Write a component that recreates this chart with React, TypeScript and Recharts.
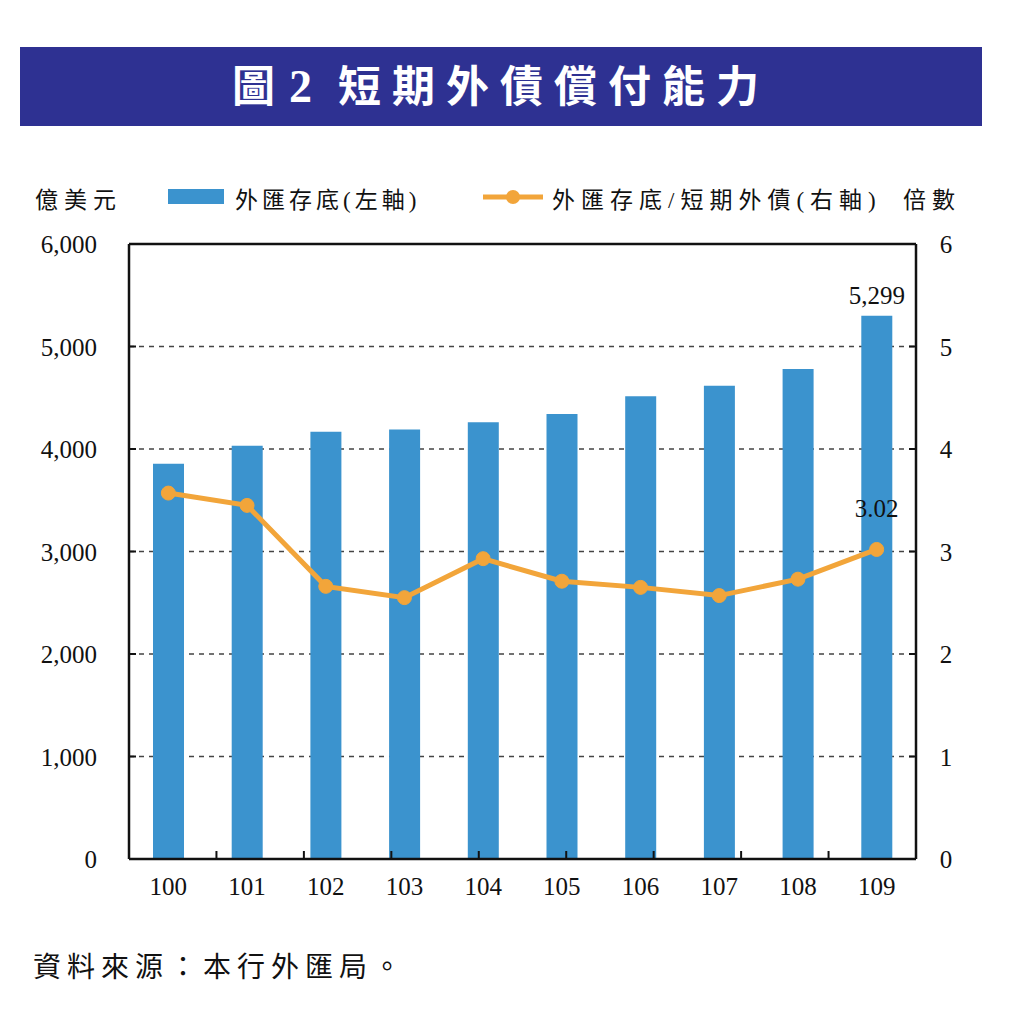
import React from 'react'
import {
  ComposedChart,
  Bar,
  Line,
  XAxis,
  YAxis,
  CartesianGrid,
  ReferenceLine,
  LabelList,
} from 'recharts'

const YEARS = ['100', '101', '102', '103', '104', '105', '106', '107', '108', '109']
const RESERVES = [3855, 4032, 4168, 4190, 4260, 4342, 4515, 4618, 4781, 5299]
const RATIO = [3.57, 3.45, 2.66, 2.55, 2.93, 2.71, 2.65, 2.57, 2.73, 3.02]
const LEFT_TICKS = [0, 1000, 2000, 3000, 4000, 5000, 6000]
const RIGHT_TICKS = [0, 1, 2, 3, 4, 5, 6]
const SEPARATORS = [1, 2, 3, 4, 5, 6, 7, 8, 9]

const data = YEARS.map((year, i) => ({
  year,
  reserves: RESERVES[i],
  ratio: RATIO[i],
  // only the last year carries a label
  reservesLabel: i === YEARS.length - 1 ? RESERVES[i] : null,
  ratioLabel: i === YEARS.length - 1 ? RATIO[i] : null,
}))

const FONT = '"Liberation Serif", "Noto Sans CJK TC", serif'
const BLUE = '#3b93ce'
const ORANGE = '#f2a53a'
const INK = '#111'

function LeftTick(props: any) {
  const { x, y, payload } = props
  return (
    <g>
      <line x1={x} x2={x + 7} y1={y} y2={y} stroke={INK} strokeWidth={2} />
      <text x={x - 32} y={y + 9} textAnchor="end" fontSize={25} fontFamily={FONT} fill={INK}>
        {Number(payload.value).toLocaleString('en-US')}
      </text>
    </g>
  )
}

function RightTick(props: any) {
  const { x, y, payload } = props
  return (
    <g>
      <line x1={x - 7} x2={x} y1={y} y2={y} stroke={INK} strokeWidth={2} />
      <text x={x + 30} y={y + 9} textAnchor="middle" fontSize={25} fontFamily={FONT} fill={INK}>
        {payload.value}
      </text>
    </g>
  )
}

function YearTick(props: any) {
  const { x, y, payload } = props
  return (
    <text x={x} y={y + 36} textAnchor="middle" fontSize={25} fontFamily={FONT} fill={INK}>
      {payload.value}
    </text>
  )
}

function SeparatorTick(props: any) {
  const { x, y } = props
  return <line x1={x} x2={x} y1={y - 1} y2={y - 9} stroke={INK} strokeWidth={2} />
}

export default function App() {
  return (
    <div
      style={{
        position: 'absolute',
        left: 0,
        top: 0,
        width: 1024,
        height: 1018,
        background: '#fff',
        fontFamily: FONT,
        color: INK,
      }}
    >
      <div
        style={{
          position: 'absolute',
          left: 20,
          top: 47,
          width: 962,
          height: 79,
          background: '#2e3192',
          color: '#fff',
          fontWeight: 'bold',
          fontSize: 43,
          letterSpacing: 11,
          lineHeight: '79px',
          textAlign: 'center',
        }}
      >
        <span style={{ letterSpacing: 0 }}>圖</span>
        <span style={{ fontSize: 46, letterSpacing: 0, margin: '0 26px 0 14px' }}>2</span>
        短期外債償付能力
      </div>

      <div style={{ position: 'absolute', left: 35, top: 181, fontSize: 23, letterSpacing: 6 }}>
        億美元
      </div>
      <div
        style={{
          position: 'absolute',
          left: 168,
          top: 189,
          width: 56,
          height: 15,
          background: BLUE,
        }}
      />
      <div style={{ position: 'absolute', left: 235, top: 181, fontSize: 23, letterSpacing: 4 }}>
        外匯存底(左軸)
      </div>
      <svg style={{ position: 'absolute', left: 480, top: 185 }} width={70} height={24}>
        <line x1={3} x2={63} y1={12} y2={12} stroke={ORANGE} strokeWidth={5} />
        <circle cx={33} cy={12} r={7} fill={ORANGE} />
      </svg>
      <div style={{ position: 'absolute', left: 552, top: 181, fontSize: 23, letterSpacing: 6 }}>
        外匯存底/短期外債(右軸)
      </div>
      <div style={{ position: 'absolute', left: 903, top: 181, fontSize: 23, letterSpacing: 6 }}>
        倍數
      </div>

      <div style={{ position: 'absolute', left: 0, top: 0 }}>
        <ComposedChart
          width={1024}
          height={1018}
          data={data}
          margin={{ top: 244, right: 107, bottom: 157, left: 128 }}
          barCategoryGap={0}
        >
          <CartesianGrid
            horizontal
            vertical={false}
            stroke="#444"
            strokeWidth={1.5}
            strokeDasharray="5 5"
          />
          <XAxis
            dataKey="year"
            height={1}
            axisLine={{ stroke: INK, strokeWidth: 2.5 }}
            tickLine={false}
            tickSize={0}
            tickMargin={0}
            tick={<YearTick />}
            interval={0}
          />
          <XAxis
            xAxisId="sep"
            type="number"
            domain={[0, 10]}
            ticks={SEPARATORS}
            height={1}
            axisLine={false}
            tickLine={false}
            tickSize={0}
            tickMargin={0}
            tick={<SeparatorTick />}
            interval={0}
          />
          <YAxis
            width={1}
            domain={[0, 6000]}
            ticks={LEFT_TICKS}
            axisLine={{ stroke: INK, strokeWidth: 2.5 }}
            tickLine={false}
            tickSize={0}
            tickMargin={0}
            tick={<LeftTick />}
            interval={0}
          />
          <YAxis
            yAxisId="r"
            orientation="right"
            width={1}
            domain={[0, 6]}
            ticks={RIGHT_TICKS}
            axisLine={{ stroke: INK, strokeWidth: 2.5 }}
            tickLine={false}
            tickSize={0}
            tickMargin={0}
            tick={<RightTick />}
            interval={0}
          />
          <ReferenceLine y={6000} stroke={INK} strokeWidth={2.5} />
          <Bar dataKey="reserves" fill={BLUE} barSize={31} isAnimationActive={false}>
            <LabelList
              dataKey="reservesLabel"
              position="top"
              offset={12}
              fontSize={25}
              fontFamily={FONT}
              fill={INK}
              formatter={(v: any) => (v == null ? '' : Number(v).toLocaleString('en-US'))}
            />
          </Bar>
          <Line
            yAxisId="r"
            dataKey="ratio"
            stroke={ORANGE}
            strokeWidth={5}
            dot={{ r: 7, fill: ORANGE, stroke: ORANGE, strokeWidth: 1 }}
            isAnimationActive={false}
          >
            <LabelList
              dataKey="ratioLabel"
              position="top"
              offset={32}
              fontSize={25}
              fontFamily={FONT}
              fill={INK}
              formatter={(v: any) => (v == null ? '' : Number(v).toFixed(2))}
            />
          </Line>
        </ComposedChart>
      </div>

      <div style={{ position: 'absolute', left: 33, top: 945, fontSize: 28, letterSpacing: 6 }}>
        資料來源：本行外匯局。
      </div>
    </div>
  )
}
